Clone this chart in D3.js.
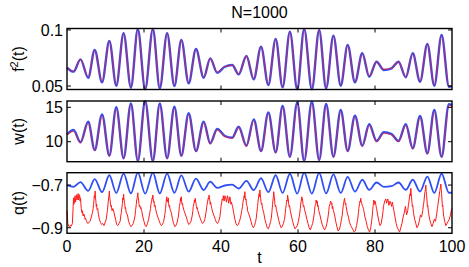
<!DOCTYPE html>
<html>
<head>
<meta charset="utf-8">
<script src="https://cdn.jsdelivr.net/npm/d3@7"></script>
<style>
  body { margin: 0; background: #fff; }
  svg { display: block; font-family: "Liberation Sans", Arial, sans-serif; }
</style>
</head>
<body>
<div id="chart"></div>
<script>
// times of the turning points, shared by the three smooth curves
const extremaT = [0, 1.7, 3.5, 5.5, 7.2, 9.1, 11.0, 12.8, 14.7, 16.6, 18.4, 20.3, 22.3, 24.1, 26.0,
  27.9, 29.7, 31.6, 33.5, 35.5, 37.2, 39.0, 41.0, 42.9, 44.6, 46.6, 48.5, 50.4, 52.3, 54.2,
  56.0, 57.9, 59.8, 61.6, 63.6, 65.5, 67.3, 69.2, 71.1, 72.9, 74.8, 76.7, 78.5, 80.4, 82.3,
  84.3, 86.1, 88.0, 89.8, 91.7, 93.6, 95.4, 97.3, 99.2, 100];

const f2Blue = [0.0663, 0.0628, 0.0738, 0.0574, 0.0821, 0.0533, 0.0902, 0.0503, 0.0971, 0.0485,
  0.1009, 0.0470, 0.1009, 0.0479, 0.0971, 0.0500, 0.0911, 0.0524, 0.0830, 0.0574,
  0.0747, 0.0619, 0.0672, 0.0687, 0.0604, 0.0768, 0.0560, 0.0851, 0.0509, 0.0920,
  0.0488, 0.0985, 0.0470, 0.1009, 0.0470, 0.1000, 0.0479, 0.0949, 0.0503, 0.0866,
  0.0533, 0.0792, 0.0583, 0.0717, 0.0643, 0.0658, 0.0717, 0.0578, 0.0792, 0.0538,
  0.0875, 0.0503, 0.0955, 0.0494, 0.0500];
const f2Red = [0.0664, 0.0631, 0.0737, 0.0579, 0.0819, 0.0538, 0.0900, 0.0508, 0.0969, 0.0490,
  0.1006, 0.0476, 0.1007, 0.0484, 0.0969, 0.0505, 0.0909, 0.0529, 0.0828, 0.0579,
  0.0745, 0.0623, 0.0672, 0.0686, 0.0609, 0.0766, 0.0565, 0.0849, 0.0514, 0.0918,
  0.0493, 0.0983, 0.0476, 0.1006, 0.0476, 0.0998, 0.0484, 0.0947, 0.0508, 0.0864,
  0.0538, 0.0790, 0.0588, 0.0715, 0.0648, 0.0660, 0.0715, 0.0583, 0.0790, 0.0543,
  0.0873, 0.0508, 0.0953, 0.0499, 0.0503];

const wBlue = [11.07, 11.70, 9.91, 12.91, 8.79, 13.98, 7.97, 15.00, 7.59, 15.58,
  7.20, 15.91, 7.20, 15.58, 7.59, 15.09, 7.97, 14.13, 8.65, 12.91,
  9.77, 11.85, 10.83, 10.58, 12.18, 9.42, 13.25, 8.65, 14.27, 8.46,
  15.19, 7.82, 15.72, 7.20, 15.81, 7.34, 15.48, 7.82, 14.61, 8.65,
  13.78, 9.42, 12.53, 10.10, 11.37, 11.10, 10.10, 12.53, 9.04, 13.73,
  8.31, 14.61, 7.82, 15.45, 15.30];
const wRed = [10.98, 11.55, 9.82, 12.74, 8.70, 13.80, 7.88, 14.82, 7.50, 15.40,
  7.12, 15.72, 7.12, 15.40, 7.50, 14.90, 7.88, 13.95, 8.56, 12.75,
  9.68, 11.72, 10.74, 10.50, 12.04, 9.33, 13.08, 8.56, 14.10, 8.37,
  15.00, 7.73, 15.54, 7.12, 15.62, 7.25, 15.30, 7.73, 14.43, 8.56,
  13.60, 9.33, 12.38, 10.01, 11.25, 11.00, 10.00, 12.38, 8.95, 13.55,
  8.22, 14.43, 7.73, 15.28, 15.12];

const qBlue = [-0.700, -0.708, -0.686, -0.727, -0.672, -0.733, -0.654, -0.737, -0.646, -0.739,
  -0.642, -0.740, -0.642, -0.739, -0.646, -0.736, -0.655, -0.731, -0.670, -0.723,
  -0.684, -0.713, -0.702, -0.698, -0.716, -0.680, -0.724, -0.668, -0.733, -0.654,
  -0.737, -0.647, -0.740, -0.642, -0.740, -0.643, -0.739, -0.650, -0.737, -0.662,
  -0.731, -0.675, -0.722, -0.688, -0.708, -0.705, -0.688, -0.722, -0.675, -0.730,
  -0.660, -0.737, -0.647, -0.736, -0.735];

// noisy red q(t), read point by point
const qRed = [
  [0, -0.82], [0.2, -0.88], [0.5, -0.895], [0.8, -0.89], [1.1, -0.893], [1.4, -0.88], [1.6, -0.80],
  [1.7, -0.76], [1.8, -0.79], [1.9, -0.78], [2.0, -0.76], [2.1, -0.75], [2.2, -0.78], [2.3, -0.77],
  [2.4, -0.755], [2.5, -0.745], [2.6, -0.77], [2.7, -0.76], [2.8, -0.75], [2.9, -0.74], [3.0, -0.77],
  [3.1, -0.765], [3.2, -0.745], [3.3, -0.75], [3.4, -0.775], [3.5, -0.76], [3.7, -0.81], [3.9, -0.83],
  [4.0, -0.82], [4.2, -0.845], [4.3, -0.835], [4.5, -0.84], [4.7, -0.86], [4.8, -0.855], [5.1, -0.87],
  [5.4, -0.88], [5.7, -0.875], [6.0, -0.87], [6.3, -0.85], [6.6, -0.83], [6.8, -0.81], [6.9, -0.79],
  [7.0, -0.77], [7.1, -0.75], [7.2, -0.76], [7.3, -0.728], [7.4, -0.76], [7.5, -0.775], [7.6, -0.80],
  [7.7, -0.79], [7.8, -0.815], [8.0, -0.81], [8.1, -0.83], [8.4, -0.86], [8.7, -0.875], [9.0, -0.885],
  [9.3, -0.88], [9.6, -0.89], [9.9, -0.875], [10.2, -0.86], [10.4, -0.83], [10.5, -0.82], [10.7, -0.78],
  [10.8, -0.76], [10.9, -0.75], [11.0, -0.728], [11.1, -0.76], [11.2, -0.77], [11.3, -0.79], [11.4, -0.80],
  [11.5, -0.795], [11.7, -0.82], [11.9, -0.81], [12.0, -0.815], [12.3, -0.835], [12.6, -0.86],
  [12.9, -0.885], [13.2, -0.89], [13.5, -0.88], [13.8, -0.87], [14.0, -0.84], [14.1, -0.83], [14.3, -0.80],
  [14.4, -0.785], [14.5, -0.76], [14.6, -0.77], [14.7, -0.742], [14.8, -0.765], [14.9, -0.78], [15.0, -0.79],
  [15.1, -0.81], [15.2, -0.805], [15.4, -0.83], [15.7, -0.84], [16.0, -0.87], [16.3, -0.885], [16.6, -0.895],
  [16.9, -0.89], [17.2, -0.88], [17.5, -0.86], [17.7, -0.84], [17.8, -0.82], [18.0, -0.79], [18.1, -0.77],
  [18.2, -0.765], [18.3, -0.75], [18.4, -0.736], [18.5, -0.76], [18.6, -0.77], [18.7, -0.79], [18.8, -0.80],
  [18.9, -0.795], [19.1, -0.81], [19.2, -0.805], [19.4, -0.82], [19.7, -0.85], [20.0, -0.87], [20.3, -0.89],
  [20.6, -0.895], [20.9, -0.88], [21.2, -0.86], [21.5, -0.83], [21.7, -0.81], [21.8, -0.79], [22.0, -0.775],
  [22.1, -0.76], [22.2, -0.765], [22.3, -0.747], [22.4, -0.77], [22.5, -0.78], [22.6, -0.775], [22.7, -0.80],
  [22.9, -0.795], [23.0, -0.81], [23.3, -0.835], [23.6, -0.85], [23.9, -0.865], [24.2, -0.88], [24.5, -0.89],
  [24.8, -0.885], [25.1, -0.87], [25.4, -0.84], [25.6, -0.81], [25.7, -0.79], [25.8, -0.77], [25.9, -0.755],
  [26.0, -0.775], [26.1, -0.77], [26.2, -0.78], [26.3, -0.76], [26.4, -0.785], [26.5, -0.80], [26.6, -0.795],
  [26.8, -0.815], [27.1, -0.83], [27.4, -0.86], [27.7, -0.88], [28.0, -0.895], [28.3, -0.89], [28.6, -0.875],
  [28.9, -0.85], [29.1, -0.82], [29.2, -0.80], [29.4, -0.78], [29.5, -0.76], [29.6, -0.775], [29.7, -0.755],
  [29.8, -0.78], [29.9, -0.79], [30.0, -0.785], [30.1, -0.80], [30.4, -0.82], [30.7, -0.835], [31.0, -0.85],
  [31.3, -0.87], [31.6, -0.885], [31.9, -0.88], [32.2, -0.87], [32.5, -0.845], [32.7, -0.82], [32.8, -0.80],
  [33.0, -0.785], [33.1, -0.77], [33.2, -0.78], [33.3, -0.762], [33.4, -0.775], [33.5, -0.785], [33.6, -0.80],
  [33.7, -0.81], [33.8, -0.805], [34.0, -0.82], [34.3, -0.84], [34.6, -0.855], [34.9, -0.87], [35.2, -0.88],
  [35.5, -0.875], [35.8, -0.86], [36.1, -0.83], [36.3, -0.80], [36.4, -0.79], [36.6, -0.77], [36.7, -0.76],
  [36.8, -0.765], [36.9, -0.747], [37.0, -0.765], [37.1, -0.77], [37.2, -0.79], [37.3, -0.78], [37.5, -0.80],
  [37.6, -0.81], [37.9, -0.83], [38.2, -0.845], [38.5, -0.86], [38.8, -0.875], [39.1, -0.88], [39.4, -0.87],
  [39.7, -0.85], [39.9, -0.82], [40.0, -0.80], [40.2, -0.78], [40.3, -0.765], [40.5, -0.77], [40.6, -0.75],
  [40.8, -0.775], [40.9, -0.765], [41.0, -0.75], [41.2, -0.755], [41.4, -0.78], [41.5, -0.77], [41.7, -0.75],
  [41.8, -0.76], [42.0, -0.785], [42.1, -0.775], [42.3, -0.755], [42.4, -0.765], [42.6, -0.79], [42.7, -0.78],
  [43.0, -0.80], [43.3, -0.83], [43.6, -0.86], [43.9, -0.88], [44.2, -0.89], [44.5, -0.885], [44.8, -0.87],
  [45.1, -0.85], [45.4, -0.82], [45.6, -0.80], [45.7, -0.78], [45.9, -0.765], [46.0, -0.75], [46.1, -0.76],
  [46.2, -0.731], [46.3, -0.76], [46.4, -0.77], [46.5, -0.765], [46.6, -0.79], [46.8, -0.80], [46.9, -0.82],
  [47.2, -0.835], [47.5, -0.85], [47.8, -0.87], [48.1, -0.89], [48.4, -0.90], [48.7, -0.89], [49.0, -0.87],
  [49.2, -0.85], [49.3, -0.83], [49.5, -0.80], [49.6, -0.78], [49.8, -0.75], [49.9, -0.74], [50.0, -0.755],
  [50.1, -0.723], [50.2, -0.745], [50.3, -0.76], [50.4, -0.78], [50.5, -0.79], [50.6, -0.785], [50.8, -0.81],
  [51.1, -0.83], [51.4, -0.86], [51.7, -0.88], [52.0, -0.90], [52.3, -0.905], [52.6, -0.89], [52.9, -0.87],
  [53.1, -0.85], [53.2, -0.83], [53.4, -0.79], [53.5, -0.77], [53.6, -0.755], [53.7, -0.731], [53.8, -0.75],
  [53.9, -0.76], [54.0, -0.79], [54.1, -0.80], [54.2, -0.795], [54.4, -0.815], [54.7, -0.84], [55.0, -0.865],
  [55.3, -0.885], [55.6, -0.90], [55.9, -0.895], [56.2, -0.88], [56.5, -0.86], [56.7, -0.83], [56.8, -0.81],
  [57.0, -0.785], [57.1, -0.77], [57.2, -0.775], [57.3, -0.747], [57.4, -0.76], [57.5, -0.77], [57.6, -0.79],
  [57.7, -0.80], [57.8, -0.795], [58.0, -0.82], [58.3, -0.845], [58.6, -0.87], [58.9, -0.89], [59.2, -0.905],
  [59.5, -0.90], [59.8, -0.89], [60.1, -0.87], [60.3, -0.85], [60.4, -0.84], [60.6, -0.81], [60.7, -0.79],
  [60.9, -0.77], [61.0, -0.755], [61.1, -0.765], [61.2, -0.77], [61.3, -0.79], [61.4, -0.80], [61.5, -0.795],
  [61.7, -0.815], [62.0, -0.835], [62.3, -0.86], [62.6, -0.88], [62.9, -0.90], [63.2, -0.91], [63.5, -0.895],
  [63.8, -0.88], [64.1, -0.85], [64.3, -0.82], [64.4, -0.80], [64.6, -0.79], [64.7, -0.77], [64.8, -0.78],
  [64.9, -0.785], [65.0, -0.775], [65.1, -0.80], [65.2, -0.795], [65.4, -0.82], [65.7, -0.84], [66.0, -0.865],
  [66.3, -0.885], [66.6, -0.90], [66.9, -0.91], [67.2, -0.90], [67.5, -0.88], [67.8, -0.85], [68.0, -0.82],
  [68.1, -0.80], [68.3, -0.79], [68.4, -0.78], [68.5, -0.775], [68.6, -0.78], [68.7, -0.79], [68.8, -0.785],
  [68.9, -0.81], [69.0, -0.80], [69.2, -0.82], [69.5, -0.84], [69.8, -0.87], [70.1, -0.895], [70.4, -0.915],
  [70.7, -0.91], [71.0, -0.89], [71.3, -0.86], [71.5, -0.84], [71.6, -0.82], [71.8, -0.79], [71.9, -0.78],
  [72.0, -0.77], [72.1, -0.762], [72.2, -0.78], [72.3, -0.79], [72.4, -0.785], [72.5, -0.80], [72.8, -0.83],
  [73.1, -0.85], [73.4, -0.875], [73.7, -0.89], [74.0, -0.90], [74.3, -0.91], [74.6, -0.92], [74.9, -0.915],
  [75.2, -0.89], [75.5, -0.86], [75.7, -0.83], [75.8, -0.81], [76.0, -0.785], [76.1, -0.775], [76.2, -0.78],
  [76.3, -0.762], [76.4, -0.775], [76.5, -0.78], [76.6, -0.79], [76.8, -0.80], [77.0, -0.81], [77.1, -0.82],
  [77.4, -0.85], [77.7, -0.87], [78.0, -0.895], [78.3, -0.91], [78.6, -0.92], [78.9, -0.90], [79.2, -0.86],
  [79.4, -0.82], [79.5, -0.80], [79.6, -0.785], [79.7, -0.77], [79.8, -0.78], [79.9, -0.79], [80.0, -0.775],
  [80.1, -0.78], [80.3, -0.80], [80.4, -0.81], [80.7, -0.84], [81.0, -0.87], [81.3, -0.89], [81.6, -0.88],
  [81.9, -0.85], [82.1, -0.82], [82.2, -0.80], [82.4, -0.785], [82.5, -0.775], [82.7, -0.77], [82.8, -0.765],
  [83.0, -0.785], [83.1, -0.78], [83.3, -0.765], [83.4, -0.77], [83.6, -0.795], [83.7, -0.79], [83.9, -0.775],
  [84.0, -0.78], [84.2, -0.79], [84.3, -0.80], [84.5, -0.78], [84.6, -0.79], [84.9, -0.82], [85.2, -0.85],
  [85.5, -0.88], [85.8, -0.90], [86.1, -0.91], [86.4, -0.92], [86.7, -0.90], [87.0, -0.88], [87.3, -0.85],
  [87.6, -0.83], [87.9, -0.80], [88.1, -0.825], [88.2, -0.84], [88.5, -0.82], [88.7, -0.79], [88.8, -0.78],
  [89.0, -0.75], [89.1, -0.74], [89.2, -0.75], [89.3, -0.715], [89.4, -0.74], [89.5, -0.76], [89.6, -0.78],
  [89.7, -0.80], [89.8, -0.795], [90.0, -0.83], [90.3, -0.86], [90.6, -0.88], [90.9, -0.90], [91.2, -0.89],
  [91.5, -0.87], [91.8, -0.84], [92.1, -0.85], [92.4, -0.82], [92.6, -0.79], [92.7, -0.78], [92.9, -0.74],
  [93.0, -0.73], [93.1, -0.72], [93.2, -0.70], [93.3, -0.73], [93.4, -0.75], [93.5, -0.77], [93.6, -0.80],
  [93.7, -0.795], [93.9, -0.83], [94.2, -0.86], [94.5, -0.88], [94.8, -0.895], [95.1, -0.88], [95.4, -0.86],
  [95.7, -0.87], [96.0, -0.84], [96.2, -0.81], [96.3, -0.80], [96.5, -0.77], [96.6, -0.76], [96.8, -0.73],
  [96.9, -0.72], [97.0, -0.71], [97.1, -0.695], [97.2, -0.72], [97.3, -0.74], [97.4, -0.77], [97.5, -0.80],
  [97.6, -0.795], [97.8, -0.84], [98.1, -0.87], [98.4, -0.89], [98.7, -0.88], [99.0, -0.87], [99.3, -0.86],
  [99.6, -0.84], [99.8, -0.82], [100, -0.81]
];

const xTicks = [0, 20, 40, 60, 80, 100];
const panelDefs = [
  { label: "f2", domain: [0.0469, 0.1013], ticks: [0.05, 0.1], tickFmt: d => d === 0.1 ? "0.1" : "0.05" },
  { label: "w", domain: [7.09, 15.92], ticks: [10, 15], tickFmt: d => String(d) },
  { label: "q", domain: [-0.926, -0.642], ticks: [-0.9, -0.7], tickFmt: d => "\u2212" + Math.abs(d).toFixed(1) }
];

const width = 469, height = 267;
const left = 67, right = 452;
const panelY = [[28.5, 89.5], [101, 161.7], [172.7, 233.3]];
const blue = "#2f4ff5", red = "#ff1a1a";

const svg = d3.select("#chart").append("svg")
  .attr("width", width).attr("height", height)
  .style("font-size", "16px");

const x = d3.scaleLinear().domain([0, 100]).range([left, right]);

svg.append("text")
  .attr("x", (left + right) / 2).attr("y", 18)
  .attr("text-anchor", "middle")
  .text("N=1000");

const smooth = (yScale) => d3.line()
  .x(d => x(d[0])).y(d => yScale(d[1]))
  .curve(d3.curveMonotoneX);

panelDefs.forEach((p, i) => {
  const [top, bottom] = panelY[i];
  const y = d3.scaleLinear().domain(p.domain).range([bottom, top]);
  const g = svg.append("g");

  const clipId = "clip" + i;
  svg.append("clipPath").attr("id", clipId)
    .append("rect").attr("x", left - 1).attr("y", top - 1.5)
    .attr("width", right - left + 2).attr("height", bottom - top + 3);
  const plot = g.append("g").attr("clip-path", `url(#${clipId})`);

  if (i === 0) {
    plot.append("path").attr("d", smooth(y)(extremaT.map((t, k) => [t, f2Blue[k]])))
      .attr("fill", "none").attr("stroke", blue).attr("stroke-width", 2.4);
    plot.append("path").attr("d", smooth(y)(extremaT.map((t, k) => [t, f2Red[k]])))
      .attr("fill", "none").attr("stroke", red).attr("stroke-width", 1.2).attr("stroke-opacity", 0.6);
  } else if (i === 1) {
    plot.append("path").attr("d", smooth(y)(extremaT.map((t, k) => [t, wBlue[k]])))
      .attr("fill", "none").attr("stroke", blue).attr("stroke-width", 2.4);
    plot.append("path").attr("d", smooth(y)(extremaT.map((t, k) => [t, wRed[k]])))
      .attr("fill", "none").attr("stroke", red).attr("stroke-width", 1.2).attr("stroke-opacity", 0.6);
  } else {
    plot.append("path").attr("d", smooth(y)(extremaT.map((t, k) => [t, qBlue[k]])))
      .attr("fill", "none").attr("stroke", blue).attr("stroke-width", 1.8);
    plot.append("path").attr("d", d3.line().x(d => x(d[0])).y(d => y(d[1]))(qRed))
      .attr("fill", "none").attr("stroke", red).attr("stroke-width", 1);
  }

  // inward ticks on all four sides, box frame
  const tickLen = 4;
  g.append("g").selectAll("line").data(p.ticks).join("line")
    .attr("x1", left).attr("x2", left + tickLen)
    .attr("y1", d => y(d)).attr("y2", d => y(d))
    .attr("stroke", "#000");
  g.append("g").selectAll("line").data(p.ticks).join("line")
    .attr("x1", right).attr("x2", right - tickLen)
    .attr("y1", d => y(d)).attr("y2", d => y(d))
    .attr("stroke", "#000");
  g.append("g").selectAll("line").data(xTicks.slice(1, -1)).join("line")
    .attr("x1", d => x(d)).attr("x2", d => x(d))
    .attr("y1", bottom).attr("y2", bottom - tickLen)
    .attr("stroke", "#000");
  g.append("g").selectAll("line").data(xTicks.slice(1, -1)).join("line")
    .attr("x1", d => x(d)).attr("x2", d => x(d))
    .attr("y1", top).attr("y2", top + tickLen)
    .attr("stroke", "#000");

  g.append("rect")
    .attr("x", left).attr("y", top)
    .attr("width", right - left).attr("height", bottom - top)
    .attr("fill", "none").attr("stroke", "#000").attr("stroke-width", 1.4);

  g.append("g").selectAll("text").data(p.ticks).join("text")
    .attr("x", left - 4).attr("y", d => y(d)).attr("dy", "0.36em")
    .attr("text-anchor", "end")
    .text(p.tickFmt);

  const lab = g.append("text")
    .attr("transform", `translate(24,${(top + bottom) / 2}) rotate(-90)`)
    .attr("text-anchor", "middle");
  if (p.label === "f2") {
    lab.append("tspan").text("f");
    lab.append("tspan").attr("dy", -6).style("font-size", "11px").text("2");
    lab.append("tspan").attr("dy", 6).text("(t)");
  } else {
    lab.text(p.label + "(t)");
  }

  if (i === 2) {
    g.append("g").selectAll("text").data(xTicks).join("text")
      .attr("x", d => x(d)).attr("y", 252)
      .attr("text-anchor", "middle")
      .text(d => d);
    svg.append("text")
      .attr("x", (left + right) / 2).attr("y", 263)
      .attr("text-anchor", "middle")
      .text("t");
  }
});
</script>
</body>
</html>
